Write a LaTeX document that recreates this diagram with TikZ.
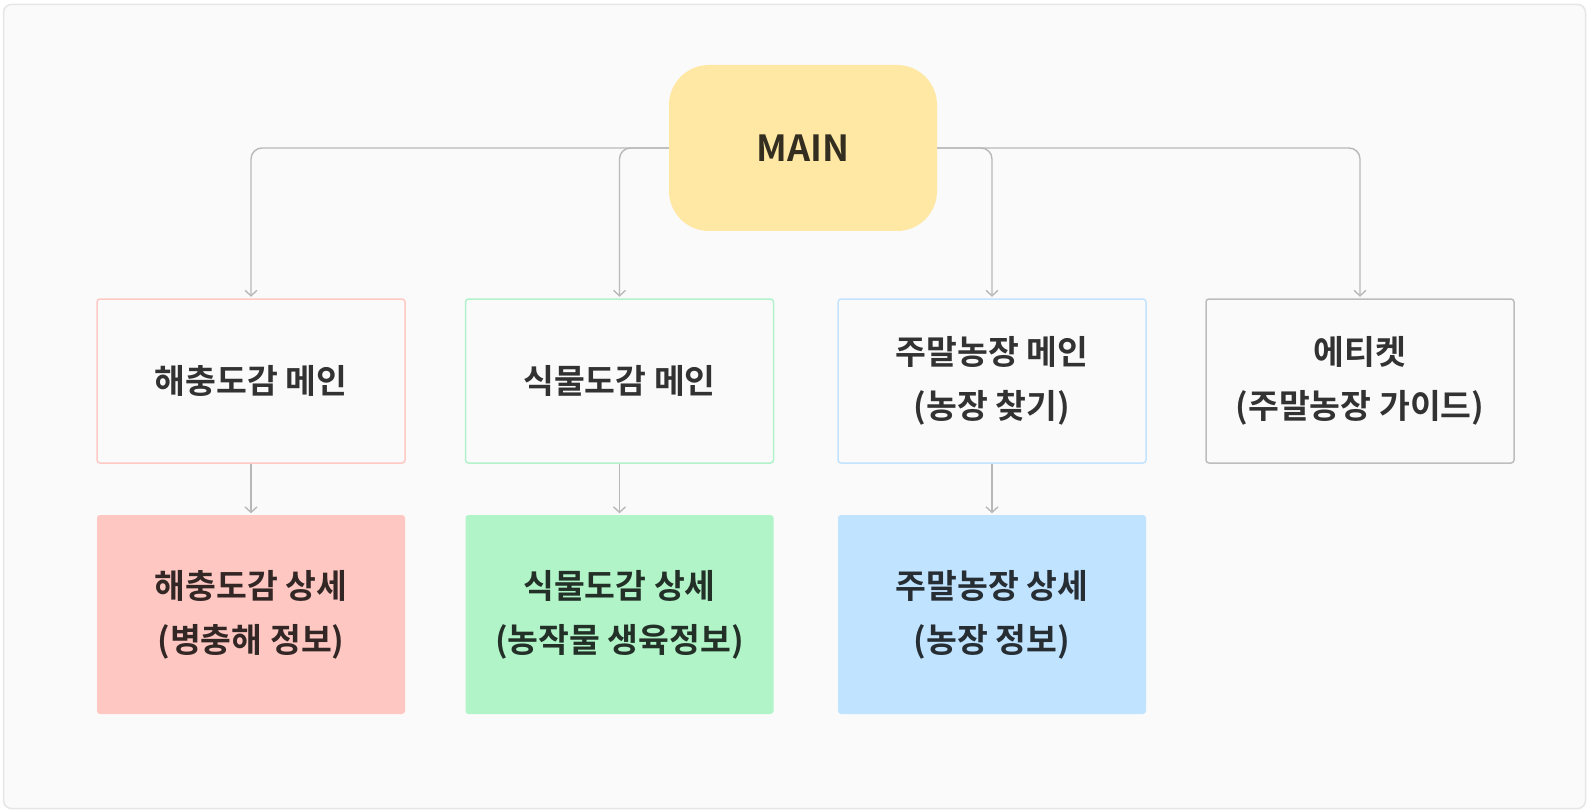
\documentclass[tikz,border=0pt]{standalone}
\usepackage{fontspec}
\newfontfamily\krfont{Noto Sans CJK KR}[UprightFont={* Bold}]
\usetikzlibrary{arrows.meta}
\definecolor{framebg}{HTML}{FAFAFA}
\definecolor{frameline}{HTML}{E6E6E6}
\definecolor{mainfill}{HTML}{FFE8A3}
\definecolor{pinkline}{HTML}{FFC9C4}
\definecolor{pinkfill}{HTML}{FFC7C2}
\definecolor{greenline}{HTML}{B2F2CA}
\definecolor{greenfill}{HTML}{B0F4C8}
\definecolor{blueline}{HTML}{C2E4FF}
\definecolor{bluefill}{HTML}{C0E3FF}
\definecolor{grayline}{HTML}{BDBDBD}
\definecolor{connline}{HTML}{B8B8B8}
\begin{document}
\begin{tikzpicture}[x=1pt,y=-1pt,
  txt/.style={font=\krfont\fontsize{33.5}{54}\selectfont, text=black, text opacity=0.8, align=center},
  topbox/.style={txt, draw=#1, line width=1.5pt, fill=framebg, rounded corners=3pt,
    minimum width=308pt, minimum height=164pt, inner sep=0pt},
  detbox/.style={txt, fill=#1, rounded corners=3pt,
    minimum width=308pt, minimum height=199pt, inner sep=0pt},
  mainbox/.style={font=\krfont\fontsize{36}{40}\selectfont, text=black, text opacity=0.8,
    fill=mainfill, rounded corners=40pt, minimum width=268pt, minimum height=166pt, inner sep=0pt},
  conn/.style={draw=connline, line width=1.4pt, rounded corners=11pt,
    -{Straight Barb[length=5.5pt,width=12pt,line width=1.4pt]}}
]
\useasboundingbox (0,0) rectangle (1587,810);
\fill[white] (0,0) rectangle (1587,810);
\draw[draw=frameline, fill=framebg, line width=1.5pt, rounded corners=8pt] (3.5,4.5) rectangle (1585.5,808.5);

\node[mainbox] (main) at (803,148) {MAIN};

\node[topbox=pinkline]  (b1) at (251,381)   {해충도감 메인};
\node[topbox=greenline] (b2) at (619.5,381) {식물도감 메인};
\node[topbox=blueline]  (b3) at (992,381)   {주말농장 메인\\(농장 찾기)};
\node[topbox=grayline]  (b4) at (1360,381)  {에티켓\\(주말농장 가이드)};

\node[detbox=pinkfill]  (c1) at (251,614.5)   {해충도감 상세\\(병충해 정보)};
\node[detbox=greenfill] (c2) at (619.5,614.5) {식물도감 상세\\(농작물 생육정보)};
\node[detbox=bluefill]  (c3) at (992,614.5)   {주말농장 상세\\(농장 정보)};

\draw[conn] (main.west) -| ([yshift=1.5pt]b1.north);
\draw[conn] (main.west) -| ([yshift=1.5pt]b2.north);
\draw[conn] (main.east) -| ([yshift=1.5pt]b3.north);
\draw[conn] (main.east) -| ([yshift=1.5pt]b4.north);

\draw[conn] (b1.south) -- ([yshift=1.5pt]c1.north);
\draw[conn] (b2.south) -- ([yshift=1.5pt]c2.north);
\draw[conn] (b3.south) -- ([yshift=1.5pt]c3.north);
\end{tikzpicture}
\end{document}
